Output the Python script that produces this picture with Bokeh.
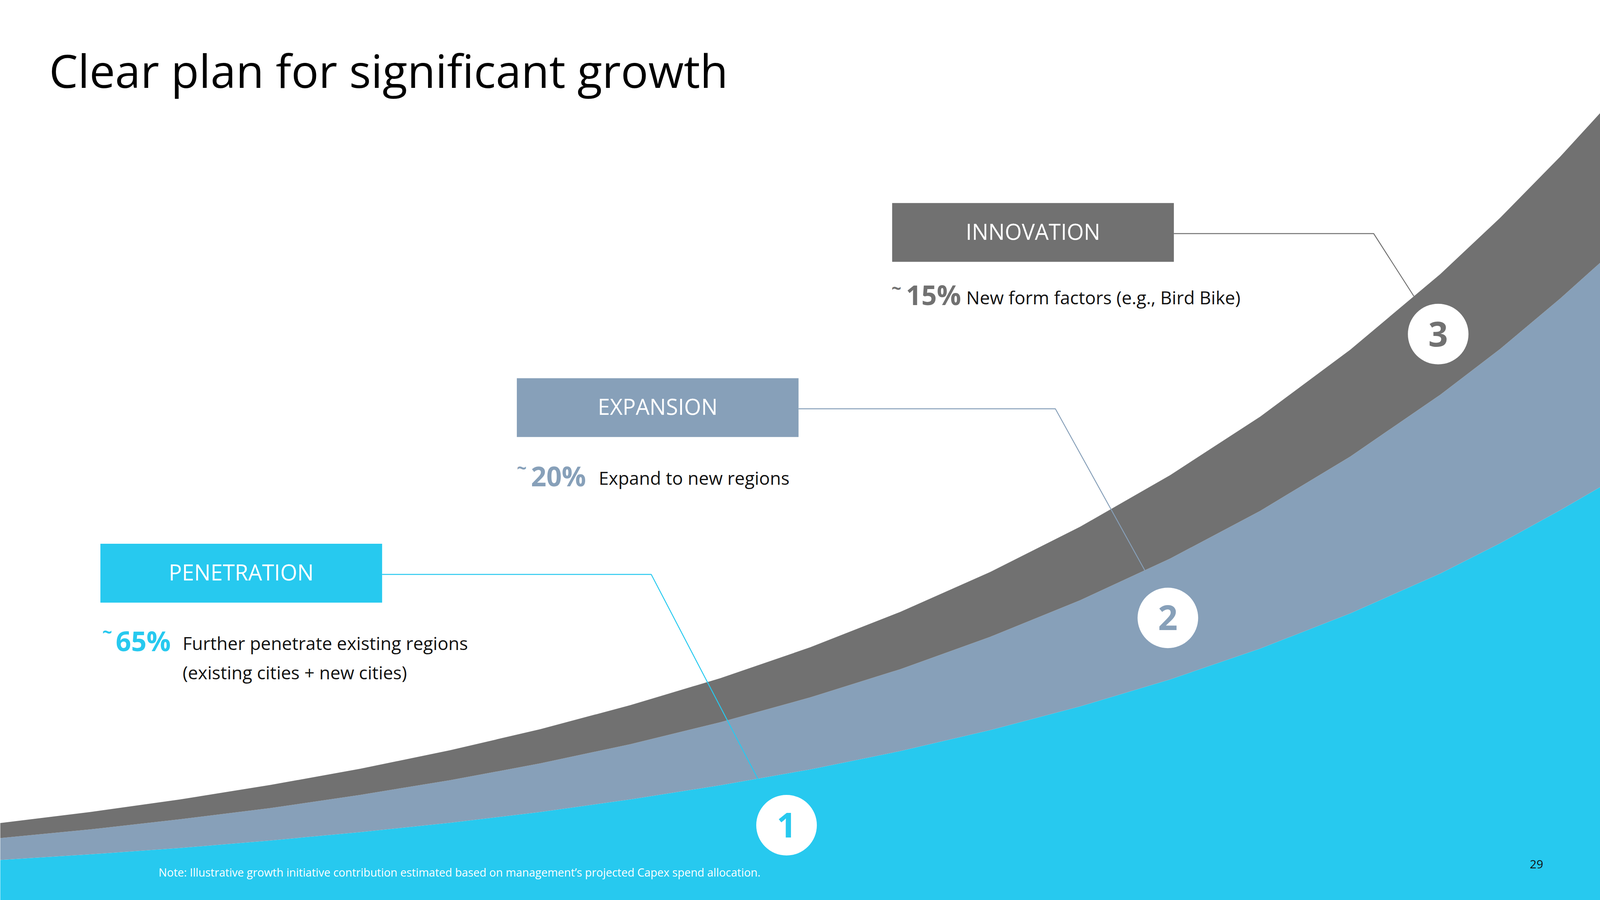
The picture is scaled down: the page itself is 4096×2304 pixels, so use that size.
from bokeh.plotting import figure
from bokeh.models import Range1d, ColumnDataSource
from bokeh.core.properties import value
from bokeh.embed import file_html
from bokeh.resources import INLINE
import numpy as np

# ---------------- data (slide units, heights above slide bottom) ----------------
stage = [0, 300, 600, 900, 1200, 1500, 1800, 2100, 2400, 2700, 3000, 3300, 3600,
         3900, 4200, 4500, 4800, 5000, 5200, 5333]
penetration = [134, 153, 174, 199, 227, 258, 294, 336, 383, 436, 497, 567, 646,
               736, 839, 956, 1089, 1190, 1300, 1377]
expansion = [73, 83, 96, 108, 124, 142, 162, 184, 210, 240, 273, 311, 354,
             403, 459, 523, 596, 648, 706, 748]
innovation = [50, 58, 66, 77, 87, 100, 114, 130, 147, 167, 191, 216, 245,
              278, 314, 356, 402, 437, 473, 499]

categories = ["PENETRATION", "EXPANSION", "INNOVATION"]
shares = ["65%", "20%", "15%"]
descriptions = ["Further penetrate existing regions", "Expand to new regions",
                "New form factors (e.g., Bird Bike)"]
extra_line = "(existing cities + new cities)"
markers = ["1", "2", "3"]
title = "Clear plan for significant growth"
note = "Note:  Illustrative growth initiative contribution estimated based on management\u2019s projected Capex spend allocation."
page_no = "29"

# ---------------- styles ----------------
CYAN = "#27C9EF"
STEEL = "#87A0B9"
GRAY = "#717171"
colors = [CYAN, STEEL, GRAY]
FONT = value("Open Sans")

# ---------------- layout (slide units, measured from top) ----------------
SLIDE_W, SLIDE_H = 5333, 3000
S = 0.768
K = 0.36  # baseline correction of the text renderer, in em


def Y(yd):
    return SLIDE_H - yd


def TB(yd, px):
    """data y for an alphabetic baseline at slide y=yd with a font of px pixels"""
    return SLIDE_H - yd + K * px / S


box_left = [334, 1722, 2973]
box_top = [1812, 1260, 676]
box_w, box_h = 939, 196
bend_x = [2170, 3517, 4578]
end_x = [2525, 3815, 4712]
tilde_x = [340, 1722, 2971]
tilde_mid = [2106, 1558, 960]
share_x = [385, 1769, 3019]
share_base = [2167, 1617, 1013]
desc_x = [608, 1995, 3220]
desc_base = [2164, 1614, 1012]
circ_x = [2621, 3892, 4793]
circ_y = [2750, 2059, 1113]
circ_r = 101

LBL_PX, SHARE_PX, TILDE_PX, DESC_PX, NUM_PX, TITLE_PX = 56, 69, 44, 46, 88, 117

p = figure(width=4096, height=2304,
           x_range=Range1d(0, SLIDE_W), y_range=Range1d(0, SLIDE_H),
           output_backend="svg", toolbar_location=None, min_border=0)
p.axis.visible = False
p.grid.visible = False
p.outline_line_color = None
p.background_fill_color = "white"
p.border_fill_color = "white"

src = ColumnDataSource(dict(x=stage, penetration=penetration, expansion=expansion, innovation=innovation))
p.varea_stack(stackers=["penetration", "expansion", "innovation"], x="x", color=colors, source=src)

# stacked levels for leader endpoints
lvl1 = np.array(penetration, float)
lvl2 = lvl1 + np.array(expansion, float)
lvl3 = lvl2 + np.array(innovation, float)
levels = [lvl1, lvl2, lvl3]

for i in range(3):
    cy = SLIDE_H - box_top[i] - box_h / 2 - 4
    ey = float(np.interp(end_x[i], stage, levels[i]))
    p.line([box_left[i] + box_w, bend_x[i], end_x[i]], [cy, cy, ey],
           line_color=colors[i], line_width=2.4)

# boxes
p.quad(left=box_left, right=[l + box_w for l in box_left],
       top=[Y(t) for t in box_top], bottom=[Y(t + box_h) for t in box_top],
       fill_color=colors, line_color=None)
p.text(x=[l + box_w / 2 for l in box_left], y=[TB(t + 120, LBL_PX) for t in box_top], text=categories,
       text_font=FONT, text_font_size=f"{LBL_PX}px", text_color="white",
       text_align="center", text_baseline="alphabetic")

# shares
p.text(x=tilde_x, y=[TB(m + 0.35 * TILDE_PX / S, TILDE_PX) for m in tilde_mid], text=["~", "~", "~"],
       text_font=FONT, text_font_style="bold", text_font_size=f"{TILDE_PX}px", text_color=colors,
       text_align="left", text_baseline="alphabetic")
p.text(x=share_x, y=[TB(b, SHARE_PX) for b in share_base], text=shares,
       text_font=FONT, text_font_style="bold", text_font_size=f"{SHARE_PX}px", text_color=colors,
       text_align="left", text_baseline="alphabetic")
p.text(x=desc_x, y=[TB(b, DESC_PX) for b in desc_base], text=descriptions,
       text_font=FONT, text_font_size=f"{DESC_PX}px", text_color="#111111",
       text_align="left", text_baseline="alphabetic")
p.text(x=[desc_x[0]], y=[TB(desc_base[0] + 98, DESC_PX)], text=[extra_line],
       text_font=FONT, text_font_size=f"{DESC_PX}px", text_color="#111111",
       text_align="left", text_baseline="alphabetic")

# numbered circles
p.circle(x=circ_x, y=[Y(c) for c in circ_y], radius=circ_r, fill_color="white", line_color=None)
p.text(x=circ_x, y=[TB(c + 41, NUM_PX) for c in circ_y], text=markers,
       text_font=FONT, text_font_style="bold", text_font_size=f"{NUM_PX}px", text_color=colors,
       text_align="center", text_baseline="alphabetic")

# title, note, page number
p.text(x=[163], y=[TB(288, TITLE_PX)], text=[title], text_font=FONT, text_font_size=f"{TITLE_PX}px",
       text_color="black", text_align="left", text_baseline="alphabetic")
p.text(x=[528], y=[TB(2920, 28.5)], text=[note], text_font=FONT, text_font_size="28.5px",
       text_color="white", text_align="left", text_baseline="alphabetic")
p.text(x=[5143], y=[TB(2894, 30)], text=[page_no], text_font=FONT, text_font_size="30px",
       text_color="#111111", text_align="right", text_baseline="alphabetic")

open("out.html", "w").write(file_html(p, INLINE))
